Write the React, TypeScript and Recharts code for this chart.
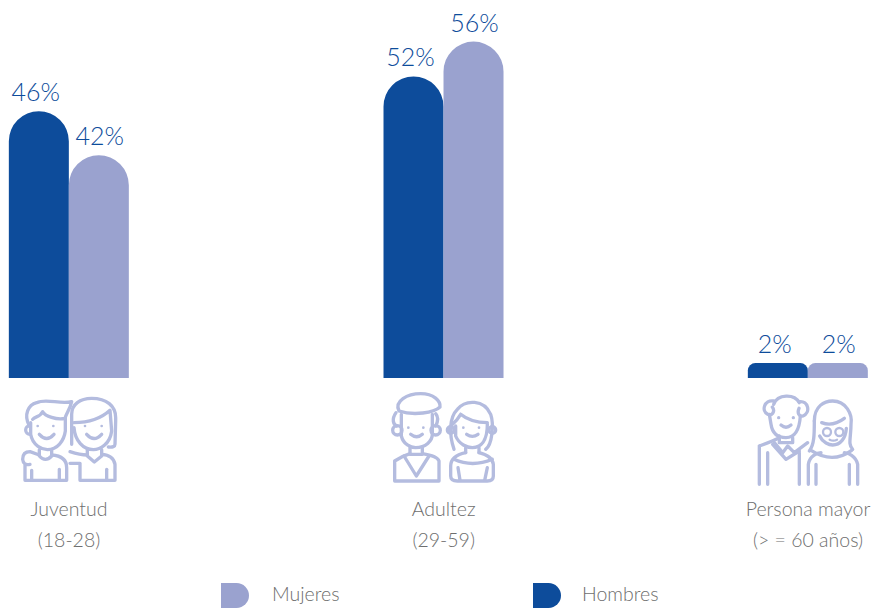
import { BarChart, Bar, XAxis, YAxis, LabelList } from 'recharts'

const ageGroups = ['Juventud', 'Adultez', 'Persona mayor']
const ageRanges = ['(18-28)', '(29-59)', '(> = 60 años)']
// group centres are not evenly spaced in the source, so the x axis is numeric
const groupPositions = [0, 1.014, 2]
// printed percentages
const hombresLabels = ['46%', '52%', '2%']
const mujeresLabels = ['42%', '56%', '2%']
// bar heights as drawn, the source does not scale them exactly to the printed numbers
const hombresBars = [46, 52, 2.6]
const mujeresBars = [38.4, 58, 2.6]

const data = ageGroups.map((group, i) => ({
  group,
  range: ageRanges[i],
  position: groupPositions[i],
  hombres: hombresBars[i],
  mujeres: mujeresBars[i],
  hombresLabel: hombresLabels[i],
  mujeresLabel: mujeresLabels[i],
}))

const BLUE = '#0d4c9b'
const LILAC = '#9aa2cf'
const ICON = '#b4bcdf'
const GREY = '#6e6e6e'
const FONT = 'Lato, sans-serif'

function Youth() {
  return (
    <>
      <path d="M88 135C70 100 85 72 110 65C140 50 180 72 215 62C210 85 200 95 195 112C170 118 135 105 128 92C120 110 105 105 98 115" />
      <path d="M92 125V160C98 195 128 206 142 206C172 206 192 180 196 150V112" />
      <path d="M90 134A13 13 0 0 0 90 160" />
      <path d="M118 160Q140 185 162 160" />
      <path d="M118 206V225Q136 245 155 225V208" />
      <path d="M155 222Q200 225 200 260V298H75V252M118 222L90 212Q68 212 68 235Q70 255 90 250" />
      <path d="M95 268V298M178 265V298" />
      <path d="M215 190V100C215 70 240 52 275 52C320 52 347 75 347 110V120L345 190Q345 200 325 198" />
      <path d="M222 125Q290 125 330 88L335 150C330 190 300 206 280 206C250 206 225 180 222 140" />
      <path d="M260 160Q282 185 305 160" />
      <path d="M262 206V225L283 243L305 225V206" />
      <path d="M210 247H240V298H345V250Q340 222 305 220M262 222Q240 222 210 212" />
      <path d="M320 265V298" />
      <g stroke="none" fill={ICON}>
        <circle cx={113} cy={135} r={4} />
        <circle cx={160} cy={135} r={4} />
        <circle cx={255} cy={135} r={4} />
        <circle cx={305} cy={135} r={4} />
      </g>
    </>
  )
}

function Adults() {
  return (
    <>
      <path d="M85 90C70 60 110 38 150 38C190 38 210 60 208 78C190 95 130 105 85 90Z" />
      <path d="M76 95C62 115 68 130 78 135M195 98Q207 112 195 135" />
      <path d="M92 100V165C98 190 120 200 135 200C165 200 185 180 185 160V100" />
      <circle cx={80} cy={148} r={14} />
      <circle cx={195} cy={148} r={14} />
      <path d="M120 160Q138 175 155 160" />
      <path d="M118 198V220H155V198" />
      <path d="M72 240V300H205V240Q200 225 155 218M118 218Q95 225 72 240" />
      <path d="M100 225L137 285L175 225" />
      <path d="M250 205C235 160 235 110 260 85C285 55 340 55 360 100C370 130 365 190 345 205" />
      <path d="M270 100Q258 120 245 130M270 100Q300 125 350 125" />
      <path d="M255 135V165C265 190 290 200 305 200C330 200 350 180 350 130" />
      <circle cx={240} cy={147} r={10} />
      <circle cx={365} cy={147} r={10} />
      <path d="M288 160Q305 172 322 160" />
      <path d="M285 200V215M325 200V215" />
      <path d="M250 235Q305 260 365 235" />
      <path d="M285 215Q240 225 240 255V285Q240 300 260 300H350Q368 300 368 285V250Q365 225 325 215" />
      <path d="M262 260L268 298M350 260L342 298" />
      <g stroke="none" fill={ICON}>
        <circle cx={113} cy={140} r={4} />
        <circle cx={158} cy={140} r={4} />
        <circle cx={278} cy={140} r={4} />
        <circle cx={325} cy={140} r={4} />
      </g>
    </>
  )
}

function Elders() {
  return (
    <>
      <path d="M115 280L120 310C125 345 150 350 165 350C190 350 205 330 208 285" />
      <path d="M128 250C140 218 190 218 205 245" />
      <path d="M128 240C100 235 90 270 110 280C122 286 134 272 124 258M205 242C232 238 240 275 216 285C204 288 198 276 204 262" />
      <path d="M150 312Q165 325 180 312" />
      <path d="M145 345V365H185V350" />
      <path d="M130 365L155 395L170 375L190 395L230 365" />
      <path d="M125 370L165 415L205 390" />
      <path d="M85 375Q125 360 145 350M85 375V490M110 395V490M205 395V490" />
      <path d="M250 300C250 255 280 240 305 240C345 240 365 280 360 310C360 350 350 370 365 385" />
      <path d="M250 300C250 340 250 370 235 390" />
      <path d="M272 305Q305 318 340 292" />
      <circle cx={288} cy={333} r={12} strokeWidth={7} />
      <circle cx={325} cy={333} r={12} strokeWidth={7} />
      <path d="M266 345C275 365 295 372 305 372C328 372 344 352 346 322" />
      <path d="M296 356Q307 362 318 356" strokeWidth={7} />
      <path d="M240 388Q305 430 362 388" />
      <path d="M232 490V430C235 405 260 395 270 395M380 490V430C375 405 350 395 340 395" />
      <path d="M255 430V490M355 430V490" />
      <g stroke="none" fill={ICON}>
        <circle cx={143} cy={290} r={5} />
        <circle cx={187} cy={290} r={5} />
      </g>
    </>
  )
}

// icon artwork is traced in a 3x space, offsets bring it under each group
const icons = [
  { Art: Youth, dx: -69, dy: -3 },
  { Art: Adults, dx: -73, dy: -3 },
  { Art: Elders, dx: -77, dy: -63 },
]

function AgeTick({ x, y, index }: any) {
  const { Art, dx, dy } = icons[index]
  return (
    <g transform={`translate(${x},${y})`}>
      <g
        transform={`translate(${dx},${dy}) scale(${1 / 3})`}
        fill="none"
        stroke={ICON}
        strokeWidth={10}
        strokeLinecap="round"
        strokeLinejoin="round"
      >
        <Art />
      </g>
      <text textAnchor="middle" fontFamily={FONT} fontWeight={300} fontSize={19.5} fill={GREY}>
        <tspan x={0} y={132}>{ageGroups[index]}</tspan>
        <tspan x={0} y={163}>{ageRanges[index]}</tspan>
      </text>
    </g>
  )
}

function LegendItem({ left, labelLeft, color, label }: { left: number; labelLeft: number; color: string; label: string }) {
  return (
    <>
      <div
        style={{
          position: 'absolute',
          left,
          top: 583,
          width: 28,
          height: 25,
          background: color,
          borderRadius: '0 13px 13px 0',
        }}
      />
      <span
        style={{
          position: 'absolute',
          left: labelLeft,
          top: 582,
          fontFamily: FONT,
          fontWeight: 300,
          fontSize: 19.5,
          lineHeight: '24px',
          color: GREY,
        }}
      >
        {label}
      </span>
    </>
  )
}

export default function App() {
  return (
    <div style={{ position: 'absolute', left: 0, top: 0, width: 873, height: 608, overflow: 'hidden', background: '#fff' }}>
      <BarChart
        width={873}
        height={608}
        data={data}
        barSize={60}
        barGap={0}
        margin={{ top: 30, right: 65, bottom: 0, left: 69 }}
      >
        <XAxis
          dataKey="position"
          type="number"
          domain={[0, 2]}
          ticks={groupPositions}
          interval={0}
          height={230}
          axisLine={false}
          tickLine={false}
          tickMargin={0}
          tick={AgeTick}
        />
        <YAxis hide domain={[0, 60]} />
        <Bar dataKey="hombres" fill={BLUE} radius={[30, 30, 0, 0]} isAnimationActive={false}>
          <LabelList dataKey="hombresLabel" position="top" offset={10} dx={-3} fill={BLUE} fontFamily={FONT} fontWeight={300} fontSize={25} />
        </Bar>
        <Bar dataKey="mujeres" fill={LILAC} radius={[30, 30, 0, 0]} isAnimationActive={false}>
          <LabelList dataKey="mujeresLabel" position="top" offset={10} dx={1} fill={BLUE} fontFamily={FONT} fontWeight={300} fontSize={25} />
        </Bar>
      </BarChart>
      <LegendItem left={221} labelLeft={272} color={LILAC} label="Mujeres" />
      <LegendItem left={533} labelLeft={582} color={BLUE} label="Hombres" />
    </div>
  )
}
